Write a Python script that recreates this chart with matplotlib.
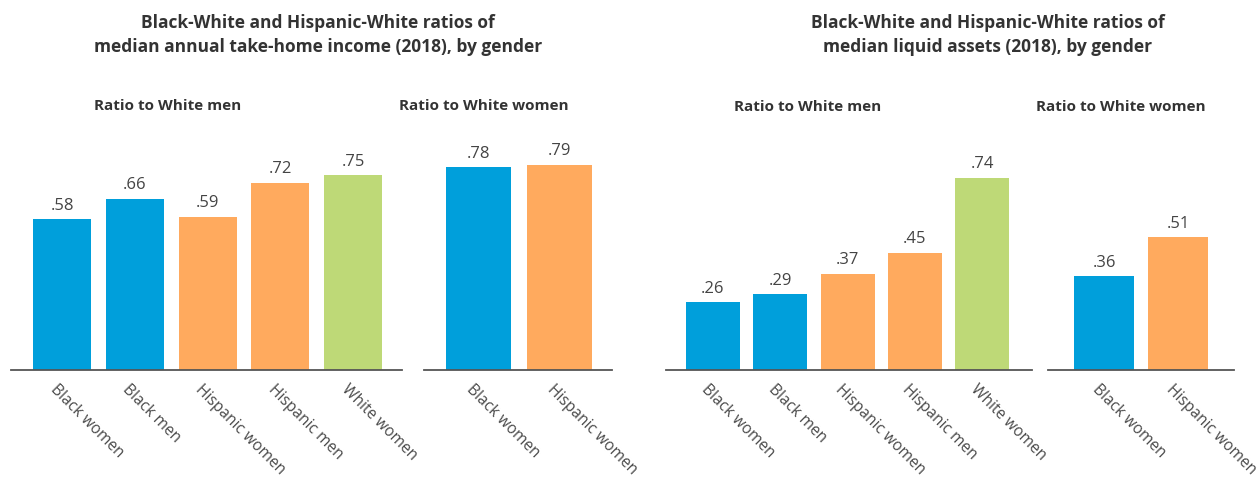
import matplotlib
matplotlib.use("Agg")
import matplotlib.pyplot as plt
import matplotlib.transforms as mtransforms

# ---- data ----
inc_men_cats = ["Black women", "Black men", "Hispanic women", "Hispanic men", "White women"]
inc_men_vals = [0.58, 0.66, 0.59, 0.72, 0.75]
inc_women_cats = ["Black women", "Hispanic women"]
inc_women_vals = [0.78, 0.79]
liq_men_cats = ["Black women", "Black men", "Hispanic women", "Hispanic men", "White women"]
liq_men_vals = [0.26, 0.29, 0.37, 0.45, 0.74]
liq_women_cats = ["Black women", "Hispanic women"]
liq_women_vals = [0.36, 0.51]

title_income = "Black-White and Hispanic-White ratios of\nmedian annual take-home income (2018), by gender"
title_assets = "Black-White and Hispanic-White ratios of\nmedian liquid assets (2018), by gender"
sub_men = "Ratio to White men"
sub_women = "Ratio to White women"

BLUE = "#009FDB"
ORANGE = "#FFAA5E"
GREEN = "#BED977"
color_map = {"Black": BLUE, "Hispanic": ORANGE, "White": GREEN}

plt.rcParams['font.family'] = ['Open Sans', 'DejaVu Sans']

W, H = 1260, 484
fig = plt.figure(figsize=(W / 100, H / 100), dpi=100)

BASE = 369.5   # baseline pixel y (from top)
PX_PER_UNIT = 259.0


def make_panel(x0, x1, first_center, spacing, bar_w_px, cats, vals):
    left_units = (first_center - x0) / spacing
    right_units = (x1 - (first_center + spacing * (len(cats) - 1))) / spacing
    ax = fig.add_axes([x0 / W, (H - BASE) / H, (x1 - x0) / W, PX_PER_UNIT / H])
    xs = list(range(len(cats)))
    cols = [color_map[c.split()[0]] for c in cats]
    ax.bar(xs, vals, width=bar_w_px / spacing, color=cols, zorder=2)
    ax.set_xlim(-left_units, len(cats) - 1 + right_units)
    ax.set_ylim(0, 1)
    for s in ["top", "left", "right"]:
        ax.spines[s].set_visible(False)
    ax.spines["bottom"].set_color("#555555")
    ax.spines["bottom"].set_linewidth(1.3)
    ax.set_yticks([])
    ax.set_xticks(xs)
    ax.set_xticklabels(cats, rotation=-45, ha="left", va="top",
                       rotation_mode="anchor", fontsize=11.2, color="#4a4a4a")
    ax.tick_params(axis="x", length=0, pad=9)
    off = mtransforms.ScaledTranslation(-4 / 100, 0, fig.dpi_scale_trans)
    for lbl in ax.get_xticklabels():
        lbl.set_transform(lbl.get_transform() + off)
    for x, v in zip(xs, vals):
        ax.annotate(("%.2f" % v)[1:], (x, v), xytext=(0, 4), textcoords="offset points",
                    ha="center", va="bottom", fontsize=12, color="#444444")
    return ax


make_panel(11, 402, 62, 72.8, 58, inc_men_cats, inc_men_vals)
make_panel(424, 612, 478.5, 80.5, 65, inc_women_cats, inc_women_vals)
make_panel(666, 1032, 713, 67.25, 54, liq_men_cats, liq_men_vals)
make_panel(1048, 1234, 1104, 74, 60, liq_women_cats, liq_women_vals)


def ftext(x, y, s, **kw):
    fig.text(x / W, 1 - y / H, s, **kw)


ftext(318, 35, title_income, ha="center", va="center", fontsize=12.5,
      fontweight="bold", color="#333333", linespacing=1.45)
ftext(988, 35, title_assets, ha="center", va="center", fontsize=12.5,
      fontweight="bold", color="#333333", linespacing=1.45)
ftext(168, 106, sub_men, ha="center", va="center", fontsize=11, fontweight="bold", color="#333333")
ftext(484, 106, sub_women, ha="center", va="center", fontsize=11, fontweight="bold", color="#333333")
ftext(808, 107, sub_men, ha="center", va="center", fontsize=11, fontweight="bold", color="#333333")
ftext(1121, 107, sub_women, ha="center", va="center", fontsize=11, fontweight="bold", color="#333333")

fig.savefig("out.png", dpi=100)
